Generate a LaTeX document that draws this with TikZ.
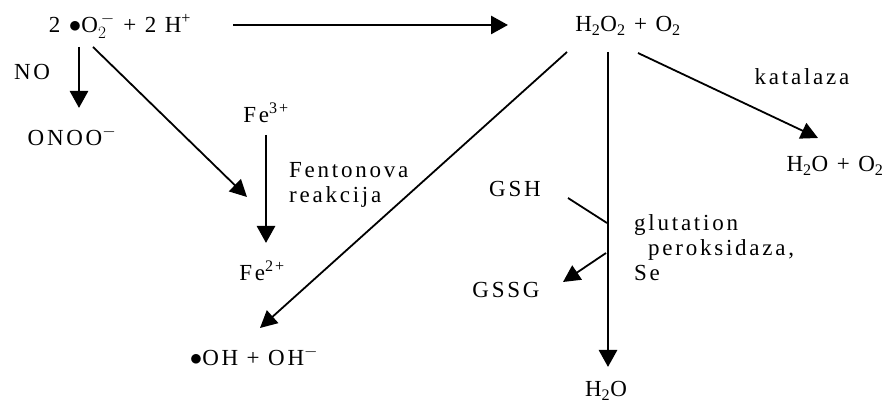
\documentclass[tikz,border=0pt]{standalone}
\usepackage{fontspec}
\setmainfont{Liberation Serif}[LetterSpace=12]
\usetikzlibrary{arrows.meta, positioning, calc}

\begin{document}
\begin{tikzpicture}[x=1pt, y=-1pt,
    every node/.style={font=\fontsize{23}{25}\selectfont, inner sep=1pt},
    main arrow/.style={line width=2.8pt, -{Triangle[width=18pt, length=17pt]}},
    side arrow/.style={line width=1.8pt, -{Triangle[width=17pt, length=17pt]}},
    side line/.style={line width=1.8pt}]
    \useasboundingbox (0,0) rectangle (895,403);
    % species
    \node (superoxide) at (120,26) {2 $\bullet$O$^{\,-}_{2}$ + 2 H\textsuperscript{+}};
    \node (peroxide) at (628,26) {H\textsubscript{2}O\textsubscript{2} + O\textsubscript{2}};
    \node (no) at (32,72) {NO};
    \node (peroxynitrite) at (72,136) {ONOO\textsuperscript{$-$}};
    \node (ferric) at (266,113) {Fe\textsuperscript{3+}};
    \node (ferrous) at (262,271) {Fe\textsuperscript{2+}};
    \node[anchor=west, align=left] (fenton) at (288,185) {Fentonova\\reakcija};
    \node (hydroxyl) at (254,356) {$\bullet$OH + OH\textsuperscript{$-$}};
    \node (gsh) at (515,189) {GSH};
    \node (gssg) at (506,290) {GSSG};
    \node[anchor=north west, align=left] (gpx) at (633,213) {glutation\\\hspace{14pt}peroksidaza,\\Se};
    \node (water) at (606,391) {H\textsubscript{2}O};
    \node (katalaza) at (802,77) {katalaza};
    \node (catalase) at (835,166) {H\textsubscript{2}O + O\textsubscript{2}};
    \coordinate (gpx in) at (607,223);
    \coordinate (gpx out) at (606,253);
    % reactions
    \draw[main arrow] ([shift={(113,-1)}]superoxide.center) -- ([shift={(-120,-1)}]peroxide.center);
    \draw[main arrow] ([shift={(-41,21)}]superoxide.center) -- ([shift={(7,-28)}]peroxynitrite.center);
    \draw[side arrow] ([shift={(-27,21)}]superoxide.center) -- ([shift={(-15,-74)}]ferrous.center);
    \draw[main arrow] ([shift={(0,22)}]ferric.center) -- ([shift={(4,-28)}]ferrous.center);
    \draw[side arrow] ([shift={(-61,26)}]peroxide.center) -- ([shift={(6,-28)}]hydroxyl.center);
    \draw[main arrow] ([shift={(-20,26)}]peroxide.center) -- ([shift={(2,-24)}]water.center);
    \draw[side arrow] ([shift={(10,27)}]peroxide.center) -- ([shift={(-17,-28)}]catalase.center);
    \draw[side line] ([shift={(53,9)}]gsh.center) -- (gpx in);
    \draw[side arrow] (gpx out) -- ([shift={(57,-8)}]gssg.center);
\end{tikzpicture}
\end{document}
